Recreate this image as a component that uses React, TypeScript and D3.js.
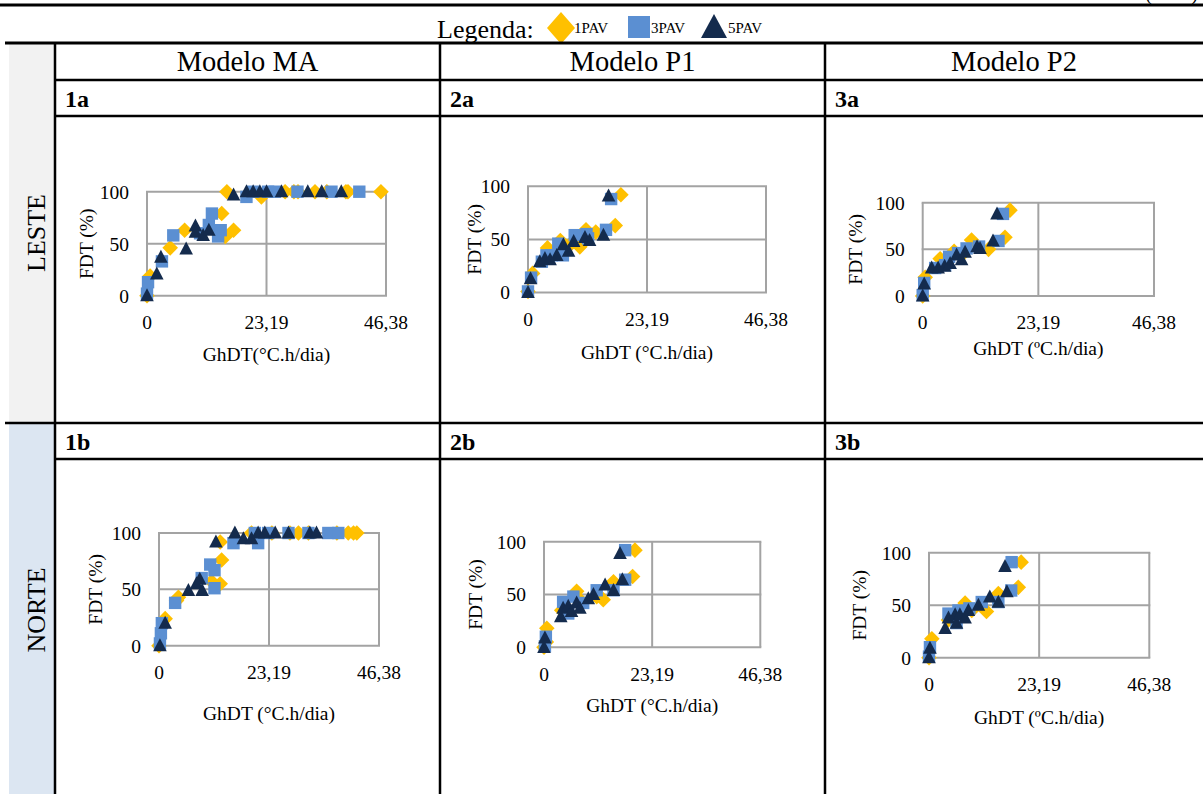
import React from "react";
import * as d3 from "d3";

// ---------- DATA ----------
const seriesNames = ["1PAV", "3PAV", "5PAV"];
const xTickValues = [0, 23.19, 46.38];
const xTickLabels = ["0", "23,19", "46,38"];
const yTickValues = [0, 50, 100];
const yTickLabels = ["0", "50", "100"];
const columnTitles = ["Modelo MA", "Modelo P1", "Modelo P2"];
const rowTitles = ["LESTE", "NORTE"];

const p1a_1PAV = [[0,0],[0.6,19],[4.5,46],[7.3,63],[14.5,79],[16.8,63],[15.2,57],[15.5,100],[22.2,95],[26.8,100],[28.5,100],[29.3,100],[32.6,100],[34.9,100],[38.6,100],[39.0,100],[45.4,100]];
const p1a_3PAV = [[0,2],[0.2,13],[2.9,33],[5.1,58],[12.6,79],[12.0,68],[10.3,60],[14.3,63],[13.8,57],[19.3,95],[20.6,100],[23.5,100],[24.8,100],[29.2,100],[35.8,100],[41.2,100]];
const p1a_5PAV = [[0,0],[1.9,21],[2.7,37],[7.6,45],[9.4,67],[9.4,61],[10.9,58],[12.0,63],[16.8,97],[19.3,100],[20.6,100],[21.9,100],[23.2,100],[26.1,100],[31.2,100],[33.9,100],[37.7,100]];

const p2a_1PAV = [[0,1],[0.9,18],[3.8,42],[6.3,49],[8.6,47],[10.1,43],[11.3,59],[13.2,57],[17.0,63],[18.1,92]];
const p2a_3PAV = [[0,1],[0.6,14],[2.7,29],[3.6,35],[4.6,35],[5.9,46],[6.8,35],[9.1,54],[11.4,55],[11.7,51],[15.2,59],[16.2,88]];
const p2a_5PAV = [[0,0],[0.5,13],[2.3,29],[3.3,32],[4.3,31],[5.6,35],[6.9,45],[7.9,39],[8.9,48],[11.1,52],[12.0,49],[14.7,54],[15.7,91]];

const p3a_1PAV = [[0,0],[0.5,20],[3.5,40],[6.3,48],[8.0,45],[9.8,60],[13.2,50],[16.5,63],[17.5,92]];
const p3a_3PAV = [[0,1],[0.3,14],[2.5,30],[4.5,33],[5.3,42],[7.1,46],[8.8,51],[11.3,53],[15.2,59],[16.1,88]];
const p3a_5PAV = [[0,0],[0.3,13],[1.8,30],[3.1,30],[4.4,32],[5.5,35],[6.8,44],[7.8,39],[8.5,47],[10.9,53],[11.5,51],[14.1,59],[14.9,88]];

const p1b_1PAV = [[0,0],[1.3,24],[3.7,40],[4.1,43],[11.1,57],[12.9,55],[13.2,76],[12.9,92],[19.5,100],[23.8,100],[27.6,100],[29.4,100],[31.5,100],[37.5,100],[39.9,100],[41.0,100],[41.7,100]];
const p1b_3PAV = [[0.2,2],[0.4,11],[0.6,20],[3.4,38],[9.0,60],[10.8,72],[11.7,67],[11.7,51],[15.7,91],[20.9,91],[20.2,100],[23.0,100],[27.3,100],[31.5,100],[35.7,100],[37.8,100]];
const p1b_5PAV = [[0.2,0],[1.3,20],[6.2,49],[7.9,55],[8.6,59],[9.1,49],[12.0,92],[16.0,100],[17.8,95],[19.5,95],[20.9,100],[22.3,100],[24.5,100],[27.3,100],[31.8,100],[33.2,100]];

const p2b_1PAV = [[0,0],[0.5,5],[0.6,18],[3.8,35],[7.0,53],[7.7,45],[11.3,48],[12.7,45],[14.9,62],[19.0,67],[19.5,92]];
const p2b_3PAV = [[0.2,1],[0.4,10],[4.1,43],[5.2,32],[6.3,48],[8.4,42],[11.3,54],[14.9,54],[17.4,64],[17.4,92]];
const p2b_5PAV = [[0,0],[0.2,9],[3.6,29],[4.1,37],[5.2,39],[5.9,34],[7.0,42],[7.7,37],[9.5,46],[10.6,50],[13.1,59],[14.9,54],[16.8,64],[16.3,89]];

const p3b_1PAV = [[0,0],[0.6,18],[4.1,36],[7.6,52],[9.0,45],[12.1,44],[14.6,61],[18.8,67],[19.4,91]];
const p3b_3PAV = [[0,1],[0.2,10],[4.1,42],[5.8,33],[6.2,45],[8.5,47],[11.1,53],[14.6,53],[17.3,64],[17.4,91]];
const p3b_5PAV = [[0,0],[0.2,9],[3.4,28],[4.1,38],[5.5,41],[5.8,33],[6.5,41],[7.6,38],[8.3,45],[10.4,50],[12.8,58],[14.6,53],[16.4,63],[16.0,87]];

// ---------- STYLE / LAYOUT ----------
const FONT = '"Liberation Serif", "Times New Roman", serif';
const COLORS = ["#FFC000", "#5B8FD2", "#142B4D"];
const GRID = "#a3a3a3";

const panels = [
  { id: "1a", data: [p1a_1PAV, p1a_3PAV, p1a_5PAV], x0: 147, x1: 386, y0: 191.7, y1: 295.7, yTitleX: 86, xTitleY: 354, xTitle: "GhDT(°C.h/dia)" },
  { id: "2a", data: [p2a_1PAV, p2a_3PAV, p2a_5PAV], x0: 528, x1: 766, y0: 186.3, y1: 292.5, yTitleX: 474.5, xTitleY: 352, xTitle: "GhDT (°C.h/dia)" },
  { id: "3a", data: [p3a_1PAV, p3a_3PAV, p3a_5PAV], x0: 922.7, x1: 1154, y0: 202.7, y1: 296, yTitleX: 855, xTitleY: 348, xTitle: "GhDT (ºC.h/dia)" },
  { id: "1b", data: [p1b_1PAV, p1b_3PAV, p1b_5PAV], x0: 159, x1: 379, y0: 533, y1: 645.7, yTitleX: 95, xTitleY: 713, xTitle: "GhDT (°C.h/dia)" },
  { id: "2b", data: [p2b_1PAV, p2b_3PAV, p2b_5PAV], x0: 544, x1: 760.3, y0: 541.7, y1: 647.3, yTitleX: 475.5, xTitleY: 705, xTitle: "GhDT (°C.h/dia)" },
  { id: "3b", data: [p3b_1PAV, p3b_3PAV, p3b_5PAV], x0: 929, x1: 1149.3, y0: 552.7, y1: 657.7, yTitleX: 859.5, xTitleY: 717, xTitle: "GhDT (ºC.h/dia)" },
];

function markerPath(kind: number, cx: number, cy: number, s = 1) {
  const p = d3.path();
  if (kind === 0) {
    const w = 7.8 * s, h = 7.8 * s;
    p.moveTo(cx, cy - h); p.lineTo(cx + w, cy); p.lineTo(cx, cy + h); p.lineTo(cx - w, cy); p.closePath();
  } else if (kind === 1) {
    const h = 6.2 * s;
    p.rect(cx - h, cy - h, 2 * h, 2 * h);
  } else {
    const w = 6.8 * s;
    p.moveTo(cx, cy - 7.4 * s); p.lineTo(cx + w, cy + 5.6 * s); p.lineTo(cx - w, cy + 5.6 * s); p.closePath();
  }
  return p.toString();
}

function Panel({ cfg }: { cfg: any }) {
  const x = d3.scaleLinear().domain([0, 46.38]).range([cfg.x0, cfg.x1]);
  const y = d3.scaleLinear().domain([0, 100]).range([cfg.y1, cfg.y0]);
  const midY = (cfg.y0 + cfg.y1) / 2;
  const midX = (cfg.x0 + cfg.x1) / 2;
  return (
    <g>
      {xTickValues.map((v, i) => (
        <line key={"gx" + i} x1={x(v)} x2={x(v)} y1={y(0)} y2={y(100)} stroke={GRID} strokeWidth={2} />
      ))}
      {yTickValues.map((v, i) => (
        <line key={"gy" + i} x1={x(0) - 1} x2={x(46.38) + 1} y1={y(v)} y2={y(v)} stroke={GRID} strokeWidth={2} />
      ))}
      {yTickValues.map((v, i) => (
        <text key={"ty" + i} x={x(0) - 18} y={y(v)} dy="0.35em" textAnchor="end" fontSize={19.5} fontFamily={FONT} fill="#000">
          {yTickLabels[i]}
        </text>
      ))}
      {xTickValues.map((v, i) => (
        <text key={"tx" + i} x={x(v)} y={y(0) + 26.5} dy="0.35em" textAnchor="middle" fontSize={19.5} fontFamily={FONT} fill="#000">
          {xTickLabels[i]}
        </text>
      ))}
      <text x={midX} y={cfg.xTitleY} dy="0.35em" textAnchor="middle" fontSize={19.5} fontFamily={FONT}>
        {cfg.xTitle}
      </text>
      <text transform={`translate(${cfg.yTitleX},${midY}) rotate(-90)`} dy="0.35em" textAnchor="middle" fontSize={19.5} fontFamily={FONT}>
        FDT (%)
      </text>
      {cfg.data.map((series: number[][], si: number) => (
        <g key={"s" + si}>
          {series.map((d, k) => (
            <path key={k} d={markerPath(si, x(d[0]), y(d[1]))} fill={COLORS[si]} />
          ))}
        </g>
      ))}
    </g>
  );
}

export default function App() {
  const W = 1203, H = 794;
  const colX = [55, 440, 825, 1203];
  const labelX = [65, 450, 835];
  return (
    <svg width={W} height={H} style={{ position: "absolute", left: 0, top: 0, background: "#fff" }}>
      <rect x={0} y={0} width={W} height={H} fill="#fff" />
      {/* top continuation (cut by the page edge, as in the source) */}
      <text x={1198} y={0} textAnchor="end" fontSize={20} fontFamily={FONT}>(cont.)</text>
      <line x1={0} x2={W} y1={5} y2={5} stroke="#000" strokeWidth={3} />

      {/* legend */}
      <text x={437} y={38} fontSize={26} fontFamily={FONT}>Legenda:</text>
      <path d="M561,12 L575,28 L561,44 L547,28 Z" fill={COLORS[0]} />
      <text x={574} y={33} fontSize={15} fontFamily={FONT}>{seriesNames[0]}</text>
      <rect x={628} y={16} width={22} height={22} fill={COLORS[1]} />
      <text x={651} y={33} fontSize={15} fontFamily={FONT}>{seriesNames[1]}</text>
      <path d="M714,14 L727,38 L701,38 Z" fill={COLORS[2]} />
      <text x={728} y={33} fontSize={15} fontFamily={FONT}>{seriesNames[2]}</text>

      {/* left column shading */}
      <rect x={9} y={44} width={45} height={378} fill="#f2f2f2" />
      <rect x={9} y={424} width={45} height={H - 424} fill="#dce6f2" />

      {/* table lines */}
      <line x1={5} x2={W} y1={43} y2={43} stroke="#000" strokeWidth={3} />
      <line x1={55} x2={W} y1={80} y2={80} stroke="#000" strokeWidth={2.5} />
      <line x1={55} x2={W} y1={116} y2={116} stroke="#000" strokeWidth={2.5} />
      <line x1={5} x2={W} y1={423} y2={423} stroke="#000" strokeWidth={2.5} />
      <line x1={55} x2={W} y1={459} y2={459} stroke="#000" strokeWidth={2.5} />
      {colX.slice(0, 3).map((cx, i) => (
        <line key={"v" + i} x1={cx} x2={cx} y1={43} y2={H} stroke="#000" strokeWidth={2.5} />
      ))}

      {/* column titles */}
      {columnTitles.map((t, i) => (
        <text key={"ct" + i} x={(colX[i] + colX[i + 1]) / 2} y={71} textAnchor="middle" fontSize={28.5} fontFamily={FONT}>
          {t}
        </text>
      ))}
      {/* sub labels */}
      {["1a", "2a", "3a"].map((t, i) => (
        <text key={"la" + i} x={labelX[i]} y={107} fontSize={24} fontWeight="bold" fontFamily={FONT}>{t}</text>
      ))}
      {["1b", "2b", "3b"].map((t, i) => (
        <text key={"lb" + i} x={labelX[i]} y={450} fontSize={24} fontWeight="bold" fontFamily={FONT}>{t}</text>
      ))}
      {/* row titles */}
      <text transform="translate(36,233) rotate(-90)" dy="0.35em" textAnchor="middle" fontSize={26} fontFamily={FONT}>{rowTitles[0]}</text>
      <text transform="translate(36,610) rotate(-90)" dy="0.35em" textAnchor="middle" fontSize={26} fontFamily={FONT}>{rowTitles[1]}</text>

      {panels.map((p) => (
        <Panel key={p.id} cfg={p} />
      ))}
    </svg>
  );
}
